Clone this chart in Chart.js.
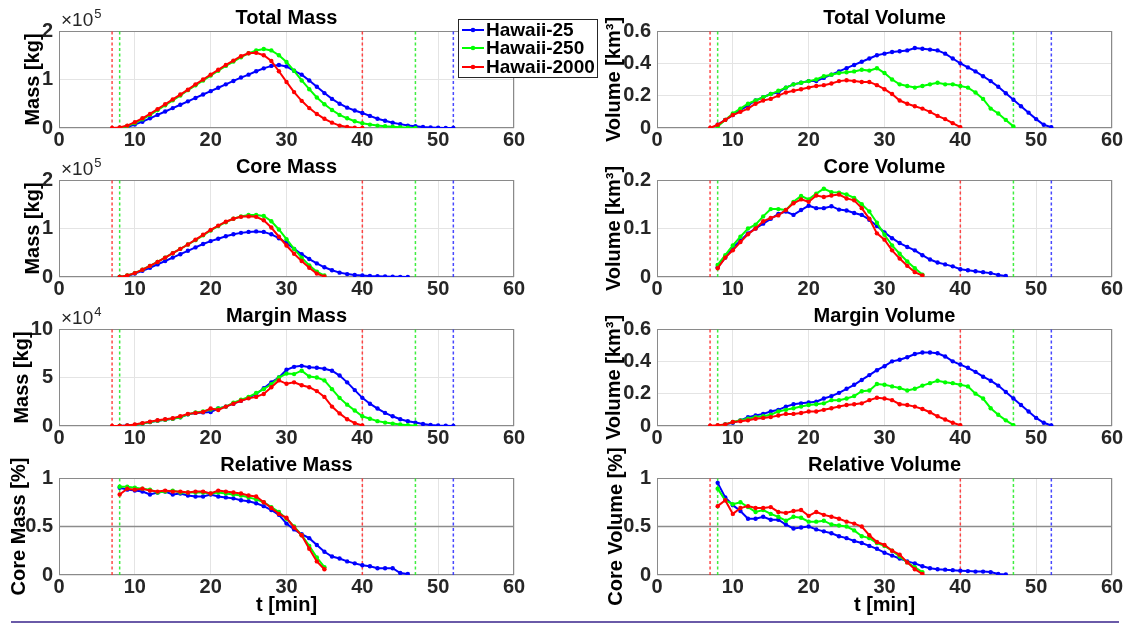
<!DOCTYPE html>
<html><head><meta charset="utf-8">
<script src="https://cdn.jsdelivr.net/npm/chart.js@4.4.1/dist/chart.umd.min.js"></script>
<style>
html,body{margin:0;padding:0;background:#fff}
body{width:1126px;height:624px;overflow:hidden;position:relative}
canvas.p{position:absolute}
#rule{position:absolute;left:11px;top:621px;width:1108px;height:2px;background:#6a5aa8}
</style></head>
<body>
<div id="rule"></div>
<script>
// ---------- data (time in minutes, one sample per minute) ----------
const seriesNames = ['Hawaii-25', 'Hawaii-250', 'Hawaii-2000'];
const xTicks = [0, 10, 20, 30, 40, 50, 60];
// first minute of each series, per row
const blueStart = [8, 8, 8, 8];
const greenStart = [8, 8, 8, 8];
const redStart = [7, 8, 7, 8];
// event bounds (dashed vertical lines); the blue start line at 8 lies under the green one
const redBounds = [7, 40];
const greenBounds = [8, 47];
const blueBounds = [52];

// Total Mass [x1e5 kg]
const totalMassBlue = [0,0.02,0.07,0.13,0.2,0.27,0.34,0.41,0.48,0.55,0.62,0.69,0.76,0.83,0.9,0.97,1.04,1.1,1.17,1.23,1.28,1.3,1.27,1.18,1.1,0.98,0.85,0.72,0.6,0.5,0.42,0.36,0.31,0.25,0.19,0.15,0.11,0.08,0.05,0.035,0.02,0.012,0.006,0.002,0];
const totalMassGreen = [0,0.04,0.1,0.18,0.27,0.37,0.47,0.57,0.67,0.78,0.88,0.98,1.08,1.18,1.28,1.37,1.46,1.54,1.6,1.63,1.6,1.5,1.36,1.18,0.98,0.8,0.63,0.49,0.37,0.27,0.2,0.14,0.1,0.07,0.05,0.035,0.025,0.015,0.007,0];
const totalMassRed = [0,0.01,0.05,0.12,0.2,0.29,0.39,0.49,0.59,0.69,0.79,0.9,1.0,1.1,1.2,1.3,1.39,1.48,1.54,1.55,1.5,1.38,1.17,0.95,0.74,0.56,0.41,0.29,0.19,0.11,0.05,0.02,0.005,0];

// Core Mass [x1e5 kg]
const coreMassBlue = [0,0.02,0.07,0.13,0.19,0.26,0.33,0.4,0.47,0.54,0.61,0.68,0.74,0.79,0.84,0.88,0.91,0.93,0.94,0.93,0.88,0.8,0.7,0.58,0.47,0.37,0.28,0.2,0.14,0.09,0.06,0.04,0.03,0.02,0.015,0.01,0.006,0.003,0];
const coreMassGreen = [0,0.03,0.08,0.15,0.23,0.31,0.4,0.49,0.58,0.67,0.76,0.86,0.96,1.05,1.13,1.2,1.25,1.28,1.28,1.26,1.15,0.98,0.78,0.58,0.4,0.24,0.11,0.03];
const coreMassRed = [0,0.03,0.08,0.15,0.23,0.31,0.4,0.49,0.58,0.67,0.77,0.87,0.97,1.06,1.14,1.2,1.24,1.25,1.24,1.17,1.02,0.83,0.65,0.48,0.33,0.19,0.07,0.01];

// Margin Mass [x1e4 kg]
const marginMassBlue = [0,0.05,0.1,0.25,0.4,0.55,0.65,0.75,0.9,1.2,1.35,1.4,1.45,1.8,2.0,2.3,2.6,2.9,3.3,3.9,4.5,5.0,5.8,6.1,6.2,6.05,6.0,5.9,5.7,5.2,4.5,3.7,2.9,2.3,1.8,1.35,1.0,0.7,0.5,0.35,0.2,0.1,0.05,0.02,0];
const marginMassGreen = [0,0.03,0.1,0.25,0.4,0.55,0.65,0.75,0.9,1.2,1.4,1.5,1.7,1.8,2.0,2.4,2.7,3.0,3.4,3.8,4.3,5.0,5.4,5.35,5.7,5.1,5.0,4.7,3.8,2.9,2.2,1.6,1.0,0.75,0.5,0.35,0.25,0.15,0.08,0.02];
const marginMassRed = [0,0,0.05,0.15,0.3,0.45,0.6,0.7,0.8,1.0,1.25,1.35,1.45,1.8,1.65,2.0,2.3,2.6,2.85,3.0,3.3,4.0,4.7,4.35,4.5,4.2,4.0,3.6,3.0,2.0,1.3,0.7,0.3,0.05];

// Relative Mass (core / total)
const relMassBlue = [0.9,0.88,0.87,0.86,0.83,0.85,0.86,0.83,0.84,0.82,0.81,0.81,0.83,0.81,0.8,0.79,0.77,0.76,0.74,0.71,0.67,0.62,0.53,0.47,0.42,0.38,0.31,0.24,0.19,0.17,0.14,0.12,0.1,0.09,0.07,0.07,0.07,0.02,0.01];
const relMassGreen = [0.91,0.91,0.9,0.89,0.88,0.85,0.86,0.87,0.85,0.85,0.85,0.85,0.84,0.85,0.84,0.83,0.82,0.8,0.78,0.75,0.7,0.65,0.58,0.5,0.41,0.3,0.18,0.08];
const relMassRed = [0.83,0.89,0.88,0.89,0.87,0.86,0.87,0.86,0.86,0.85,0.86,0.86,0.84,0.87,0.86,0.85,0.84,0.82,0.81,0.75,0.69,0.63,0.59,0.49,0.41,0.27,0.14,0.06];

// Total Volume [km3]
const totalVolBlue = [0.02,0.05,0.08,0.11,0.14,0.17,0.19,0.21,0.22,0.25,0.27,0.28,0.29,0.29,0.31,0.33,0.35,0.37,0.39,0.41,0.43,0.45,0.46,0.47,0.475,0.48,0.495,0.49,0.485,0.48,0.46,0.43,0.4,0.375,0.35,0.32,0.29,0.255,0.215,0.175,0.135,0.095,0.055,0.02,0.005];
const totalVolGreen = [0.01,0.05,0.09,0.12,0.15,0.17,0.19,0.21,0.23,0.25,0.27,0.28,0.29,0.3,0.32,0.33,0.34,0.345,0.35,0.36,0.355,0.37,0.34,0.3,0.27,0.26,0.25,0.26,0.27,0.28,0.27,0.27,0.26,0.25,0.22,0.18,0.12,0.09,0.05,0.01];
const totalVolRed = [0,0.02,0.05,0.08,0.1,0.12,0.15,0.17,0.18,0.2,0.22,0.23,0.24,0.25,0.26,0.265,0.275,0.29,0.295,0.29,0.285,0.285,0.265,0.24,0.21,0.17,0.15,0.135,0.12,0.1,0.075,0.055,0.03,0.005];

// Core Volume [km3]
const coreVolBlue = [0.02,0.04,0.06,0.075,0.09,0.1,0.11,0.12,0.13,0.135,0.128,0.138,0.147,0.142,0.142,0.146,0.139,0.137,0.132,0.128,0.118,0.105,0.092,0.08,0.07,0.062,0.055,0.045,0.036,0.03,0.026,0.022,0.016,0.014,0.012,0.01,0.008,0.004,0.002];
const coreVolGreen = [0.025,0.045,0.065,0.083,0.1,0.108,0.125,0.14,0.14,0.138,0.155,0.167,0.16,0.172,0.182,0.175,0.174,0.17,0.163,0.15,0.135,0.112,0.087,0.065,0.048,0.032,0.018,0.005];
const coreVolRed = [0.018,0.04,0.055,0.072,0.088,0.1,0.115,0.122,0.127,0.138,0.152,0.16,0.155,0.168,0.165,0.168,0.17,0.162,0.158,0.142,0.12,0.09,0.077,0.055,0.038,0.023,0.01,0.003];

// Margin Volume [km3]
const marginVolBlue = [0.002,0.01,0.02,0.035,0.055,0.065,0.075,0.09,0.1,0.12,0.135,0.14,0.145,0.15,0.17,0.185,0.205,0.23,0.255,0.285,0.315,0.345,0.37,0.4,0.41,0.425,0.445,0.455,0.455,0.45,0.43,0.4,0.38,0.36,0.335,0.305,0.28,0.25,0.21,0.17,0.13,0.09,0.05,0.02,0.003];
const marginVolGreen = [0.002,0.01,0.025,0.035,0.045,0.055,0.06,0.07,0.09,0.1,0.11,0.12,0.13,0.135,0.14,0.16,0.16,0.17,0.185,0.215,0.22,0.26,0.255,0.245,0.235,0.22,0.23,0.25,0.265,0.28,0.27,0.265,0.255,0.245,0.2,0.17,0.11,0.07,0.035,0.005];
const marginVolRed = [0.002,0.005,0.01,0.025,0.03,0.035,0.045,0.05,0.055,0.065,0.075,0.075,0.08,0.09,0.09,0.1,0.11,0.12,0.13,0.135,0.14,0.16,0.175,0.17,0.16,0.135,0.13,0.12,0.105,0.085,0.06,0.04,0.02,0.005];

// Relative Volume (core / total)
const relVolBlue = [0.95,0.8,0.72,0.66,0.58,0.58,0.6,0.57,0.57,0.52,0.48,0.49,0.5,0.47,0.45,0.43,0.4,0.38,0.35,0.33,0.3,0.27,0.23,0.2,0.17,0.14,0.12,0.09,0.07,0.06,0.055,0.05,0.045,0.04,0.035,0.035,0.03,0.01,0.005];
const relVolGreen = [0.89,0.77,0.73,0.75,0.7,0.65,0.67,0.63,0.6,0.56,0.6,0.59,0.55,0.55,0.56,0.52,0.51,0.5,0.46,0.4,0.38,0.33,0.3,0.25,0.19,0.13,0.08,0.03];
const relVolRed = [0.71,0.77,0.63,0.69,0.71,0.69,0.69,0.7,0.65,0.64,0.66,0.67,0.61,0.65,0.62,0.6,0.58,0.55,0.53,0.5,0.41,0.34,0.31,0.25,0.21,0.13,0.06,0.01];

const refLevel = 0.5;

// ---------- layout / styling ----------
const FONT = '"Liberation Sans", Arial, Helvetica, sans-serif';
const COLORS = {blue: '#0000ff', green: '#00ff00', red: '#ff0000'};
const DASH_COLORS = {blue: 'rgba(40,40,255,0.85)', green: 'rgba(30,235,30,0.85)', red: 'rgba(255,40,40,0.85)'};
const plotTops = [31, 180, 329, 478];
const PLOT_H = 97;

const panels = [
  {col:0,row:0,title:'Total Mass',ylabel:'Mass [kg]',ymax:2,step:1,exp:'5',ytp:21,d:[totalMassBlue,totalMassGreen,totalMassRed],legend:true},
  {col:0,row:1,title:'Core Mass',ylabel:'Mass [kg]',ymax:2,step:1,exp:'5',ytp:21,d:[coreMassBlue,coreMassGreen,coreMassRed]},
  {col:0,row:2,title:'Margin Mass',ylabel:'Mass [kg]',ymax:10,step:5,exp:'4',ytp:10,d:[marginMassBlue,marginMassGreen,marginMassRed]},
  {col:0,row:3,title:'Relative Mass',ylabel:'Core Mass [%]',ymax:1,step:0.5,ytp:7,d:[relMassBlue,relMassGreen,relMassRed],ref:true},
  {col:1,row:0,title:'Total Volume',ylabel:'Volume [km³]',ymax:0.6,step:0.2,ytp:2,d:[totalVolBlue,totalVolGreen,totalVolRed]},
  {col:1,row:1,title:'Core Volume',ylabel:'Volume [km³]',ymax:0.2,step:0.1,ytp:2,d:[coreVolBlue,coreVolGreen,coreVolRed]},
  {col:1,row:2,title:'Margin Volume',ylabel:'Volume [km³]',ymax:0.6,step:0.2,ytp:2,d:[marginVolBlue,marginVolGreen,marginVolRed]},
  {col:1,row:3,title:'Relative Volume',ylabel:'Core Volume [%]',ymax:1,step:0.5,ytp:4,d:[relVolBlue,relVolGreen,relVolRed],ref:true},
];

function pts(start, vals){ return vals.map((v,i)=>({x:start+i, y:v})); }

const boxPlugin = {
  id:'boxPlugin',
  beforeDatasetsDraw(chart){
    const a = chart.chartArea, c = chart.ctx;
    c.save(); c.strokeStyle = '#8a8a8a'; c.lineWidth = 1;
    c.strokeRect(Math.round(a.left)+0.5, Math.round(a.top)+0.5, Math.round(a.right-a.left)-1, Math.round(a.bottom-a.top)-1);
    c.restore();
  },
  afterDraw(chart){
    const o = chart.options.plugins.boxPlugin || {};
    const a = chart.chartArea, c = chart.ctx;
    if (o.exp){
      c.save(); c.fillStyle = '#262626'; c.textBaseline = 'alphabetic'; c.textAlign = 'left';
      c.font = '19px ' + FONT;
      c.fillText('×10', a.left + 2, a.top - 5);
      const w = c.measureText('×10').width;
      c.font = '13px ' + FONT;
      c.fillText(o.exp, a.left + 3 + w, a.top - 13);
      c.restore();
    }
    if (o.legend){
      c.save();
      const bx = 458, by = 19, bw = 139, bh = 58;
      c.fillStyle = '#fff'; c.fillRect(bx, by, bw, bh);
      c.strokeStyle = '#262626'; c.lineWidth = 1; c.strokeRect(bx+0.5, by+0.5, bw, bh);
      const cols = [COLORS.blue, COLORS.green, COLORS.red];
      const ys = [30, 48, 67];
      c.font = 'bold 19px ' + FONT; c.textBaseline = 'middle'; c.textAlign = 'left';
      for (let i=0;i<3;i++){
        c.strokeStyle = cols[i]; c.lineWidth = 2;
        c.beginPath(); c.moveTo(462, ys[i]); c.lineTo(484, ys[i]); c.stroke();
        c.fillStyle = cols[i]; c.beginPath(); c.arc(473, ys[i], 2.3, 0, Math.PI*2); c.fill();
        c.fillStyle = '#000'; c.fillText(seriesNames[i], 486, ys[i]+1);
      }
      c.restore();
    }
  }
};

panels.forEach((p) => {
  const cv = document.createElement('canvas');
  cv.className = 'p';
  const left = p.col === 0 ? 0 : 600;
  const width = p.col === 0 ? 600 : 526;
  const yw = p.col === 0 ? 59 : 57;
  const padR = width - yw - 455;
  const top = plotTops[p.row] - 31;
  const xh = p.row === 3 ? 49 : 26;
  const height = 31 + PLOT_H + xh;
  cv.width = width; cv.height = height;
  cv.style.left = left + 'px'; cv.style.top = top + 'px';
  cv.style.width = width + 'px'; cv.style.height = height + 'px';
  document.body.appendChild(cv);

  const starts = [blueStart[p.row], greenStart[p.row], redStart[p.row]];
  const keys = ['blue','green','red'];
  const orders = [3, 2, 1];
  const datasets = [];
  for (let s=0;s<3;s++){
    datasets.push({
      label: seriesNames[s], data: pts(starts[s], p.d[s]),
      borderColor: COLORS[keys[s]], backgroundColor: COLORS[keys[s]],
      borderWidth: 2, pointRadius: 2.2, pointHoverRadius: 2.2, pointBorderWidth: 0,
      tension: 0, order: orders[s]
    });
  }
  const bounds = [[blueBounds,'blue',7],[greenBounds,'green',6],[redBounds,'red',5]];
  bounds.forEach(([b,k,o]) => {
    b.forEach(bx => {
      datasets.push({label:'bound', data:[{x:bx,y:0},{x:bx,y:p.ymax}], borderColor:DASH_COLORS[k],
        borderWidth:1.5, borderDash:[3,2.5], pointRadius:0, order:o});
    });
  });
  if (p.ref){
    datasets.push({label:'ref', data:[{x:xTicks[0],y:refLevel},{x:xTicks[xTicks.length-1],y:refLevel}],
      borderColor:'#8c8c8c', borderWidth:1.5, pointRadius:0, order:10});
  }
  const tickFont = {family:FONT, size:20, weight:'bold'};
  new Chart(cv, {
    type: 'line',
    data: {datasets},
    options: {
      responsive:false, animation:false, devicePixelRatio:1,
      layout:{padding:{left:0,right:padR,top:0,bottom:0}},
      plugins:{
        legend:{display:false}, tooltip:{enabled:false},
        title:{display:true, text:p.title, fullSize:false, color:'#000',
          font:{family:FONT,size:20,weight:'bold'}, padding:{top:6,bottom:1}},
        boxPlugin:{exp:p.exp, legend:!!p.legend}
      },
      scales:{
        x:{type:'linear', min:xTicks[0], max:xTicks[xTicks.length-1],
          afterBuildTicks: s => { s.ticks = xTicks.map(v=>({value:v})); },
          ticks:{font:tickFont, color:'#262626', padding:0, maxRotation:0, autoSkip:false},
          grid:{color:'#e4e4e4', drawTicks:false, lineWidth:1}, border:{display:false},
          title:{display:p.row===3, text:'t [min]', color:'#000', font:{family:FONT,size:20,weight:'bold'}, padding:{top:0,bottom:7}},
          afterFit: s => { s.height = xh; }
        },
        y:{type:'linear', min:0, max:p.ymax,
          ticks:{stepSize:p.step, font:tickFont, color:'#262626', padding:6,
            callback: v => String(+Number(v).toFixed(3))},
          grid:{color:'#e4e4e4', drawTicks:false, lineWidth:1}, border:{display:false},
          title:{display:true, text:p.ylabel, color:'#000', font:{family:FONT,size:20,weight:'bold'}, padding:{top:p.ytp,bottom:0}},
          afterFit: s => { s.width = yw; }
        }
      }
    },
    plugins:[boxPlugin]
  });
});
</script>
</body></html>
